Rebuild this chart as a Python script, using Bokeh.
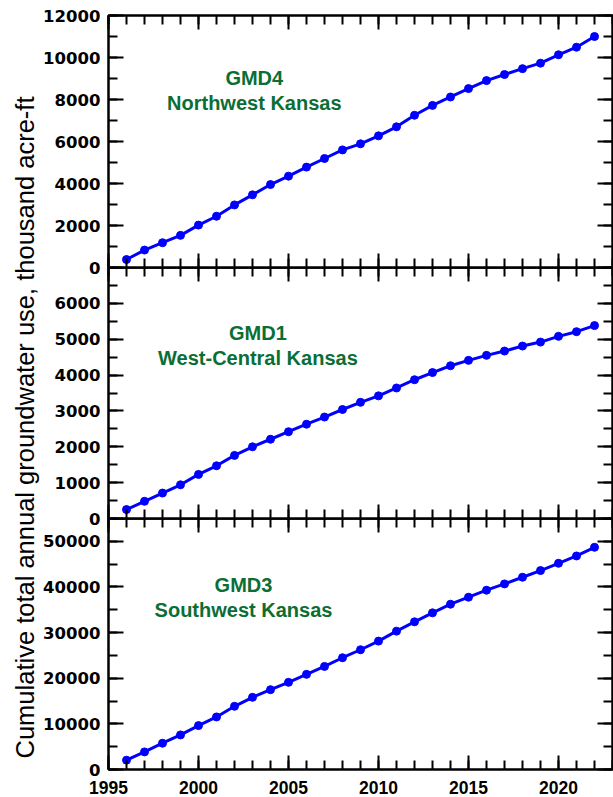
import math

from bokeh.core.properties import value
from bokeh.embed import file_html
from bokeh.layouts import column, row
from bokeh.models import (BasicTickFormatter, CustomLabelingPolicy, FixedTicker,
                          LinearAxis, Range1d)
from bokeh.plotting import figure
from bokeh.resources import INLINE

# Cumulative total annual groundwater use (thousand acre-ft), by district
years = list(range(1996, 2023))

gmd4 = [380, 830, 1180, 1530, 2020, 2440, 2980, 3460, 3950, 4350, 4780, 5190, 5600, 5890,
        6270, 6700, 7250, 7720, 8120, 8520, 8900, 9190, 9470, 9730, 10130, 10490, 11000]
gmd1 = [250, 480, 710, 940, 1230, 1470, 1760, 2000, 2210, 2420, 2630, 2830, 3040, 3240,
        3420, 3640, 3870, 4070, 4260, 4410, 4550, 4670, 4810, 4920, 5080, 5210, 5380]
gmd3 = [2040, 3860, 5760, 7580, 9620, 11520, 13850, 15820, 17490, 19100, 20850, 22590,
        24490, 26240, 28130, 30320, 32360, 34330, 36220, 37760, 39290, 40670, 42130,
        43590, 45190, 46790, 48690]

district_labels = ["GMD4\nNorthwest Kansas", "GMD1\nWest-Central Kansas", "GMD3\nSouthwest Kansas"]

x_major = [1995, 2000, 2005, 2010, 2015, 2020]
x_minor = list(range(1995, 2024))

FONT = "Liberation Sans"
YTICK_FONT = "DejaVu Sans"
BLUE = "#0000ff"
GREEN = "#0b6e35"
LABEL_W = 40
OVERLAP = 12   # panels overlap so edge tick labels are not clipped


def style_axis(ax, ticker, major_in, minor_in, show_labels, standoff=8,
               font=FONT, size="17px"):
    ax.ticker = ticker
    ax.major_tick_in = major_in
    ax.major_tick_out = 0
    ax.minor_tick_in = minor_in
    ax.minor_tick_out = 0
    ax.axis_line_width = 2
    ax.major_tick_line_width = 2
    ax.minor_tick_line_width = 2
    ax.axis_line_color = "black"
    ax.major_tick_line_color = "black"
    ax.minor_tick_line_color = "black"
    if show_labels:
        ax.major_label_text_font = font
        ax.major_label_text_font_style = "bold"
        ax.major_label_text_font_size = size
        ax.major_label_text_color = "black"
        ax.major_label_standoff = standoff
        ax.formatter = BasicTickFormatter(use_scientific=False)
    else:
        ax.major_label_text_font_size = "0px"
        ax.major_label_standoff = 0
        ax.major_label_policy = CustomLabelingPolicy(code="return []")


def panel(vals, y_max, y_major, y_minor, label, label_x, label_y,
          frame_h, border_top, border_bottom, show_x_labels, first):
    p = figure(frame_width=504, frame_height=frame_h,
               x_range=Range1d(1995, 2023), y_range=Range1d(0, y_max),
               toolbar_location=None, output_backend="svg",
               min_border_left=66, min_border_right=3,
               min_border_top=border_top, min_border_bottom=border_bottom)
    if not first:
        p.margin = (-OVERLAP, 0, 0, 0)
        p.border_fill_color = None
        p.background_fill_color = None
    else:
        p.border_fill_color = "white"
        p.background_fill_color = "white"
    p.xgrid.visible = False
    p.ygrid.visible = False
    p.outline_line_color = "black"
    p.outline_line_width = 2

    style_axis(p.xaxis[0], FixedTicker(ticks=x_major, minor_ticks=x_minor),
               14, 9, show_x_labels, standoff=11, font=FONT, size="17.5px")
    style_axis(p.yaxis[0], FixedTicker(ticks=y_major, minor_ticks=y_minor),
               15, 9, True, standoff=8, font=YTICK_FONT, size="16.5px")

    top = LinearAxis()
    style_axis(top, FixedTicker(ticks=x_major, minor_ticks=x_minor), 14, 9, False)
    p.add_layout(top, "above")
    right = LinearAxis()
    style_axis(right, FixedTicker(ticks=y_major, minor_ticks=y_minor), 15, 9, False)
    p.add_layout(right, "right")

    p.line(years, vals, line_color=BLUE, line_width=3)
    p.scatter(years, vals, size=8, fill_color=BLUE, line_color=BLUE)

    p.text(x=[label_x], y=[label_y], text=[label], text_font=value(FONT),
           text_font_style="bold", text_font_size="20px", text_color=GREEN,
           text_align="center", text_baseline="middle", text_line_height=1.15)
    return p


p1 = panel(gmd4, 12000, list(range(0, 12001, 2000)), list(range(0, 12001, 1000)),
           district_labels[0], 2003.1, 8420, 252, 15, OVERLAP, False, True)
p2 = panel(gmd1, 7000, list(range(0, 6001, 1000)), list(range(0, 7001, 500)),
           district_labels[1], 2003.3, 4830, 251, 0, OVERLAP, False, False)
p3 = panel(gmd3, 55000, list(range(0, 50001, 10000)), list(range(0, 55001, 5000)),
           district_labels[2], 2002.5, 37750, 251, 0, 28, True, False)

# Shared vertical axis title on a narrow strip to the left of the panels
lab = figure(width=LABEL_W, height=797, x_range=Range1d(0, LABEL_W), y_range=Range1d(0, 797),
             toolbar_location=None, output_backend="svg", min_border=0)
lab.axis.visible = False
lab.grid.visible = False
lab.outline_line_color = None
lab.text(x=[24], y=[370], text=["Cumulative total annual groundwater use, thousand acre-ft"],
         angle=math.pi / 2, text_font=value(FONT), text_font_size="25.5px",
         text_color="black", text_align="center", text_baseline="middle")

layout = row(lab, column(p1, p2, p3, spacing=0), spacing=0)

open("out.html", "w").write(file_html(layout, INLINE))
